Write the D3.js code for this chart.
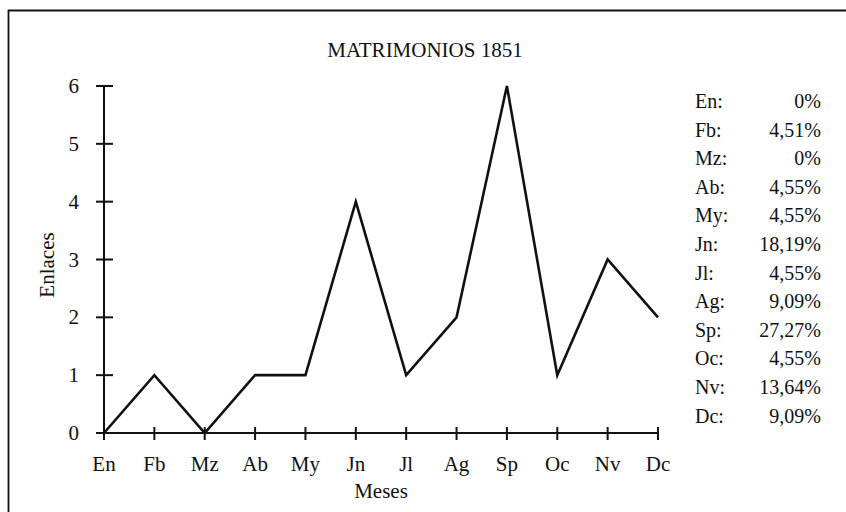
<!DOCTYPE html>
<html><head><meta charset="utf-8">
<script src="https://cdn.jsdelivr.net/npm/d3@7"></script>
<style>body{margin:0;background:#fff}svg{display:block}text{font-family:"Liberation Serif","DejaVu Serif",serif;fill:#111}</style>
</head><body><svg id="c" width="846" height="512"></svg>
<script>
const months = ["En","Fb","Mz","Ab","My","Jn","Jl","Ag","Sp","Oc","Nv","Dc"];
const enlaces = [0,1,0,1,1,4,1,2,6,1,3,2];
const percents = ["0%","4,51%","0%","4,55%","4,55%","18,19%","4,55%","9,09%","27,27%","4,55%","13,64%","9,09%"];
const yTicks = [0,1,2,3,4,5,6];
const title = "MATRIMONIOS 1851";
const xTitle = "Meses", yTitle = "Enlaces";

const svg = d3.select("#c");
svg.append("path").attr("d","M8.5,520 V10.5 H860").attr("fill","none").attr("stroke","#111").attr("stroke-width",1.8);

const x = d3.scalePoint().domain(months).range([104,658]);
const y = d3.scaleLinear().domain([0,6]).range([433,86]);

svg.append("text").attr("x",425).attr("y",57).attr("text-anchor","middle").attr("font-size",21).text(title);

// y axis
const ya = svg.append("g");
ya.append("line").attr("x1",104).attr("x2",104).attr("y1",y(0)).attr("y2",y(6)).attr("stroke","#111").attr("stroke-width",2);
ya.selectAll("line.t").data(yTicks).join("line").attr("class","t").attr("x1",96).attr("x2",113).attr("y1",d=>y(d)).attr("y2",d=>y(d)).attr("stroke","#111").attr("stroke-width",2);
ya.selectAll("text").data(yTicks).join("text").attr("x",79).attr("y",d=>y(d)+7).attr("text-anchor","end").attr("font-size",21).text(d=>d);

// x axis
const xa = svg.append("g");
xa.append("line").attr("x1",x(months[0])).attr("x2",x(months[11])).attr("y1",433).attr("y2",433).attr("stroke","#111").attr("stroke-width",2);
xa.selectAll("line.t").data(months).join("line").attr("class","t").attr("x1",d=>x(d)).attr("x2",d=>x(d)).attr("y1",427).attr("y2",440).attr("stroke","#111").attr("stroke-width",2);
xa.selectAll("text").data(months).join("text").attr("x",d=>x(d)).attr("y",471).attr("text-anchor","middle").attr("font-size",21).text(d=>d);

svg.append("text").attr("x",381).attr("y",498).attr("text-anchor","middle").attr("font-size",21).text(xTitle);
svg.append("text").attr("transform","translate(54,265) rotate(-90)").attr("text-anchor","middle").attr("font-size",21).text(yTitle);

// line
const line = d3.line().x((d,i)=>x(months[i])).y(d=>y(d));
svg.append("path").attr("d",line(enlaces)).attr("fill","none").attr("stroke","#111").attr("stroke-width",2.6).attr("stroke-linejoin","miter");

// legend
const lg = svg.append("g");
months.forEach((m,i)=>{
  const yy = 108 + i*28.6;
  lg.append("text").attr("x",695).attr("y",yy).attr("font-size",20).text(m+":");
  lg.append("text").attr("x",821).attr("y",yy).attr("text-anchor","end").attr("font-size",20).text(percents[i]);
});
</script></body></html>
